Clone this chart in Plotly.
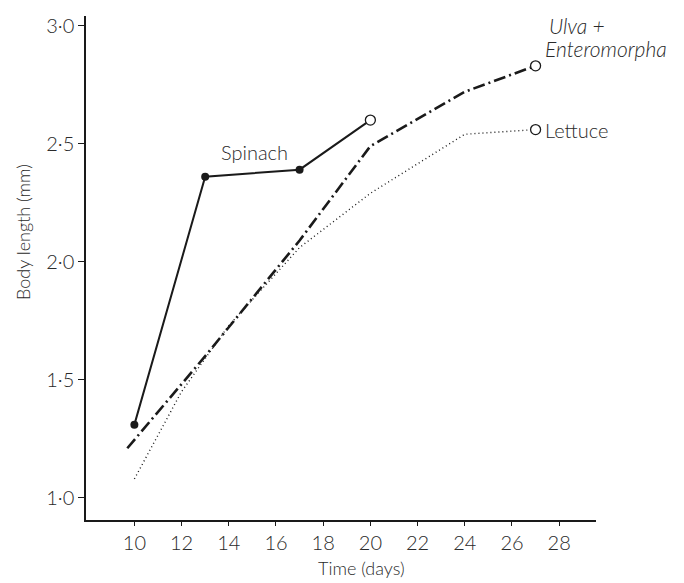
import plotly.graph_objects as go

# Data
spinach_days = [10, 13, 17, 20]
spinach_len = [1.31, 2.36, 2.39, 2.60]

ulva_days = [9.7, 13, 17, 20, 24, 27]
ulva_len = [1.21, 1.60, 2.09, 2.49, 2.72, 2.83]

lettuce_days = [10, 12, 14, 17, 20, 24, 27]
lettuce_len = [1.08, 1.45, 1.73, 2.06, 2.29, 2.54, 2.56]

x_ticks = [10, 12, 14, 16, 18, 20, 22, 24, 26, 28]
y_ticks = [1.0, 1.5, 2.0, 2.5, 3.0]
y_ticklabels = ["1·0", "1·5", "2·0", "2·5", "3·0"]

FONT = "Lato, 'Open Sans', sans-serif"
INK = "#1a1a1a"
TXT = "#2a2a2a"

fig = go.Figure()

# Lettuce: dotted
fig.add_trace(go.Scatter(
    x=lettuce_days, y=lettuce_len, mode="lines",
    line=dict(color=INK, width=1.4, dash="1px,3px"),
    showlegend=False, hoverinfo="skip"))
fig.add_trace(go.Scatter(
    x=lettuce_days[-1:], y=lettuce_len[-1:], mode="markers",
    marker=dict(symbol="circle", size=10, color="white", line=dict(width=1.3, color=INK)),
    showlegend=False))

# Ulva + Enteromorpha: dash-dot
fig.add_trace(go.Scatter(
    x=ulva_days, y=ulva_len, mode="lines",
    line=dict(color=INK, width=2.6, dash="12px,4px,2px,4px"),
    showlegend=False, hoverinfo="skip"))
fig.add_trace(go.Scatter(
    x=ulva_days[-1:], y=ulva_len[-1:], mode="markers",
    marker=dict(symbol="circle", size=10, color="white", line=dict(width=1.3, color=INK)),
    showlegend=False))

# Spinach: solid with filled dots, last open
fig.add_trace(go.Scatter(
    x=spinach_days, y=spinach_len, mode="lines",
    line=dict(color=INK, width=2),
    showlegend=False, hoverinfo="skip"))
fig.add_trace(go.Scatter(
    x=spinach_days[:-1], y=spinach_len[:-1], mode="markers",
    marker=dict(symbol="circle", size=8, color=INK),
    showlegend=False))
fig.add_trace(go.Scatter(
    x=spinach_days[-1:], y=spinach_len[-1:], mode="markers",
    marker=dict(symbol="circle", size=10, color="white", line=dict(width=1.3, color=INK)),
    showlegend=False))

ann_font = dict(family=FONT, size=20, color=TXT, weight=300)
ital_font = dict(family=FONT, size=21, color=TXT, weight=300, style="italic")
fig.add_annotation(x=15.11, y=2.464, text="Spinach", showarrow=False,
                   xanchor="center", yanchor="middle", font=ann_font)
fig.add_annotation(x=27.5, y=3.0, text="Ulva +", showarrow=False,
                   xanchor="left", yanchor="middle", font=ital_font)
fig.add_annotation(x=27.3, y=2.905, text="Enteromorpha", showarrow=False,
                   xanchor="left", yanchor="middle", font=ital_font)
fig.add_annotation(x=27.32, y=2.56, text="Lettuce", showarrow=False,
                   xanchor="left", yanchor="middle", font=ann_font)

# Axis titles
title_font = dict(family=FONT, size=18, color=TXT, weight=300)
fig.add_annotation(xref="paper", yref="paper", x=0.541, y=-0.095,
                   text="Time (days)", showarrow=False,
                   xanchor="center", yanchor="middle", font=title_font)
fig.add_annotation(xref="paper", yref="paper", x=-0.125, y=0.572,
                   text="Body length (mm)", showarrow=False, textangle=-90,
                   xanchor="center", yanchor="middle", font=title_font)

tick_font = dict(family=FONT, size=20, color=TXT, weight=300)
# margins compensate for the 8px default page margin of the HTML body
fig.update_layout(
    width=684, height=583,
    margin=dict(l=78, r=96, t=5, b=71),
    paper_bgcolor="white", plot_bgcolor="white",
    font=dict(family=FONT, size=18, color=TXT),
    showlegend=False,
    xaxis=dict(
        range=[7.95, 29.56], tickvals=x_ticks,
        ticks="outside", ticklen=4, tickcolor=INK, tickwidth=1,
        showline=True, linecolor=INK, linewidth=1.5,
        showgrid=False, zeroline=False,
        tickfont=tick_font,
    ),
    yaxis=dict(
        range=[0.906, 3.041], tickvals=y_ticks, ticktext=y_ticklabels,
        ticks="outside", ticklen=6, tickcolor=INK, tickwidth=1,
        showline=True, linecolor=INK, linewidth=1.5,
        showgrid=False, zeroline=False,
        tickfont=tick_font,
    ),
)

fig.write_html("out.html")
